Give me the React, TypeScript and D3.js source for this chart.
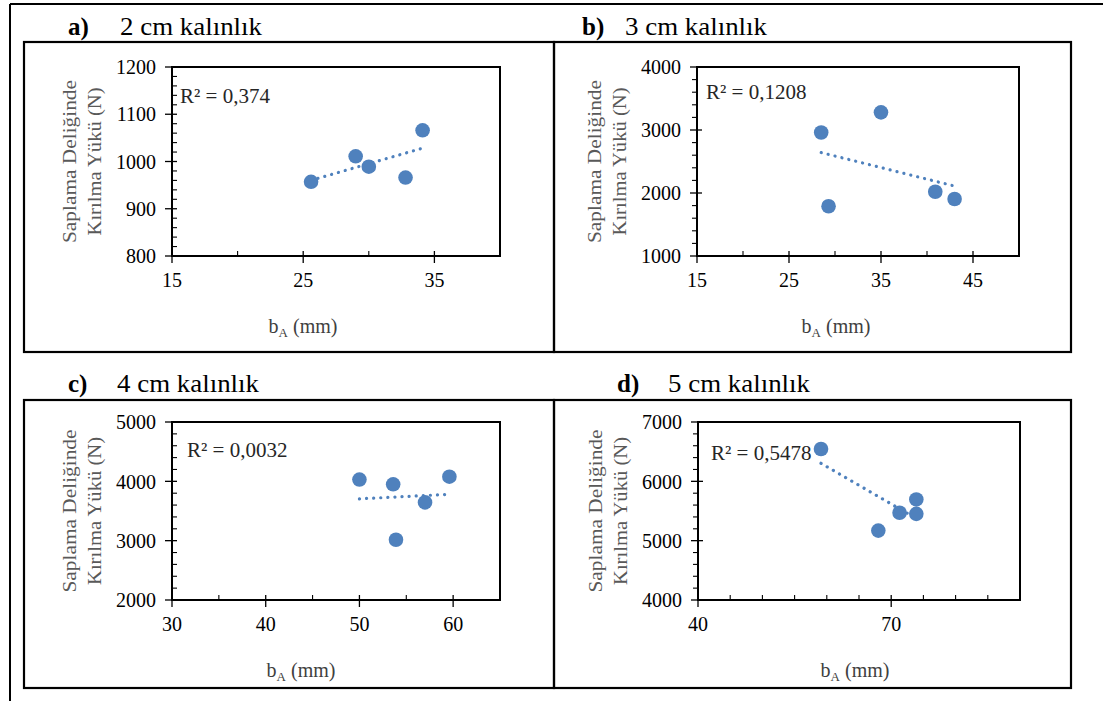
import React from "react";
import * as d3 from "d3";

// ---- data ----
const aX = [25.6, 29.0, 30.0, 32.8, 34.1];
const aY = [957, 1011, 989, 966, 1066];
const bX = [28.5, 35.0, 29.3, 40.9, 43.0];
const bY = [2960, 3280, 1790, 2020, 1905];
const cX = [50.0, 53.6, 57.0, 53.9, 59.6];
const cY = [4030, 3950, 3645, 3015, 4078];
const dX = [59.1, 68.0, 71.3, 73.9, 73.9];
const dY = [6545, 5170, 5470, 5695, 5452];

const panelLetters = ["a)", "b)", "c)", "d)"];
const panelTitles = ["2 cm kalınlık", "3 cm kalınlık", "4 cm kalınlık", "5 cm kalınlık"];
const r2Labels = ["R² = 0,374", "R² = 0,1208", "R² = 0,0032", "R² = 0,5478"];
const yTitle1 = "Saplama Deliğinde";
const yTitle2 = "Kırılma Yükü (N)";

const xDomains: [number, number][] = [[15, 40], [15, 50], [30, 65], [40, 90]];
const yDomains: [number, number][] = [[800, 1200], [1000, 4000], [2000, 5000], [4000, 7000]];
const xMajorSteps = [10, 10, 10, 30];
const xMinorSteps = [5, 5, 5, 5];
const yMajorSteps = [100, 1000, 1000, 1000];
const yMinorSteps = [20, 200, 200, 200];

// ---- layout ----
const SERIF = "'Liberation Serif', 'Times New Roman', serif";
const BLUE = "#4f81bd";

const layouts = [
  { box: [24, 42, 554, 352], plot: [172, 67, 500, 256], titleBase: 35, letterX: 68, titleX: 120, r2: [180, 103], minorOut: false, xTitleX: 303 },
  { box: [554, 42, 1071, 352], plot: [697, 67, 1019, 256], titleBase: 35, letterX: 582, titleX: 625, r2: [706, 99], minorOut: true, xTitleX: 836 },
  { box: [24, 400, 554, 688], plot: [172, 422, 500, 600], titleBase: 392, letterX: 68, titleX: 117, r2: [187, 457], minorOut: false, xTitleX: 301 },
  { box: [554, 400, 1071, 688], plot: [698, 422, 1020, 600], titleBase: 392, letterX: 617, titleX: 668, r2: [711, 460], minorOut: true, xTitleX: 855 },
];

const datasets = [
  [aX, aY],
  [bX, bY],
  [cX, cY],
  [dX, dY],
];

function regression(xs: number[], ys: number[]) {
  const mx = d3.mean(xs)!;
  const my = d3.mean(ys)!;
  let sxy = 0, sxx = 0;
  xs.forEach((x, i) => {
    sxy += (x - mx) * (ys[i] - my);
    sxx += (x - mx) * (x - mx);
  });
  const slope = sxy / sxx;
  return (x: number) => my + slope * (x - mx);
}

function Panel({ i }: { i: number }) {
  const L = layouts[i];
  const [xs, ys] = datasets[i];
  const [px0, py0, px1, py1] = L.plot;
  const x = d3.scaleLinear().domain(xDomains[i]).range([px0, px1]);
  const y = d3.scaleLinear().domain(yDomains[i]).range([py1, py0]);
  const eps = 1e-9;
  const xMajor = d3.range(xDomains[i][0], xDomains[i][1] + eps, xMajorSteps[i]);
  const xMinor = d3.range(xDomains[i][0], xDomains[i][1] + eps, xMinorSteps[i]).filter(
    (v) => !xMajor.some((m) => Math.abs(m - v) < 1e-6)
  );
  const yMajor = d3.range(yDomains[i][0], yDomains[i][1] + eps, yMajorSteps[i]);
  const yMinor = d3.range(yDomains[i][0], yDomains[i][1] + eps, yMinorSteps[i]).filter(
    (v) => !yMajor.some((m) => Math.abs(m - v) < 1e-6)
  );
  const f = regression(xs, ys);
  const xMin = d3.min(xs)!;
  const xMax = d3.max(xs)!;
  const line = d3.line<number>().x((v) => x(v)).y((v) => y(f(v)));
  const [bx0, by0, bx1, by1] = L.box;
  const yc = (py0 + py1) / 2;
  return (
    <g>
      <rect x={bx0} y={by0} width={bx1 - bx0} height={by1 - by0} fill="none" stroke="#000" strokeWidth={2.2} />
      <text x={L.letterX} y={L.titleBase} fontFamily={SERIF} fontSize={25} fontWeight="bold">{panelLetters[i]}</text>
      <text x={L.titleX} y={L.titleBase} fontFamily={SERIF} fontSize={25} textLength={142} lengthAdjust="spacingAndGlyphs">{panelTitles[i]}</text>
      {/* plot frame */}
      <rect x={px0} y={py0} width={px1 - px0} height={py1 - py0} fill="#fff" stroke="#000" strokeWidth={2} />
      {/* y ticks */}
      {yMajor.map((v) => (
        <line key={"ym" + v} x1={px0 - 7} x2={px0 + 5} y1={y(v)} y2={y(v)} stroke="#000" strokeWidth={1.3} />
      ))}
      {yMinor.map((v) => (
        <line key={"yn" + v} x1={L.minorOut ? px0 - 5 : px0} x2={L.minorOut ? px0 : px0 + 5} y1={y(v)} y2={y(v)} stroke="#000" strokeWidth={1.1} />
      ))}
      {/* x ticks */}
      {xMajor.map((v) => (
        <line key={"xm" + v} x1={x(v)} x2={x(v)} y1={py1 - 5} y2={py1 + 7} stroke="#000" strokeWidth={1.3} />
      ))}
      {xMinor.map((v) => (
        <line key={"xn" + v} x1={x(v)} x2={x(v)} y1={py1 - 5} y2={py1} stroke="#000" strokeWidth={1.1} />
      ))}
      {/* tick labels */}
      {yMajor.map((v) => (
        <text key={"yl" + v} x={px0 - 16} y={y(v)} dy="0.36em" textAnchor="end" fontFamily={SERIF} fontSize={20} fill="#000">{v}</text>
      ))}
      {xMajor.map((v) => (
        <text key={"xl" + v} x={x(v)} y={py1 + 31} textAnchor="middle" fontFamily={SERIF} fontSize={20} fill="#000">{v}</text>
      ))}
      {/* axis titles */}
      <text x={L.xTitleX} y={py1 + 77} textAnchor="middle" fontFamily={SERIF} fontSize={20} fill="#404040">
        b<tspan fontSize={13} dy={4}>A</tspan><tspan dy={-4}> (mm)</tspan>
      </text>
      <text transform={`translate(${px0 - 96},${yc}) rotate(-90)`} textAnchor="middle" fontFamily={SERIF} fontSize={19} fill="#595959" textLength={163} lengthAdjust="spacingAndGlyphs">{yTitle1}</text>
      <text transform={`translate(${px0 - 71},${yc}) rotate(-90)`} textAnchor="middle" fontFamily={SERIF} fontSize={19} fill="#595959" textLength={148} lengthAdjust="spacingAndGlyphs">{yTitle2}</text>
      {/* trendline */}
      <path d={line([xMin, xMax]) || ""} fill="none" stroke={BLUE} strokeWidth={3.2} strokeDasharray="0.1 7" strokeLinecap="round" />
      {/* points */}
      {xs.map((v, k) => (
        <circle key={"p" + k} cx={x(v)} cy={y(ys[k])} r={7.3} fill={BLUE} />
      ))}
      <text x={L.r2[0]} y={L.r2[1]} fontFamily={SERIF} fontSize={21} fill="#262626">{r2Labels[i]}</text>
    </g>
  );
}

export default function App() {
  return (
    <svg width={1103} height={701} style={{ position: "absolute", left: 0, top: 0, background: "#fff" }}>
      <rect x={0} y={0} width={1103} height={701} fill="#fff" />
      <line x1={10} x2={1103} y1={4} y2={4} stroke="#000" strokeWidth={2} />
      <line x1={10} x2={10} y1={4} y2={701} stroke="#000" strokeWidth={2} />
      {[0, 1, 2, 3].map((i) => (
        <Panel key={i} i={i} />
      ))}
    </svg>
  );
}
